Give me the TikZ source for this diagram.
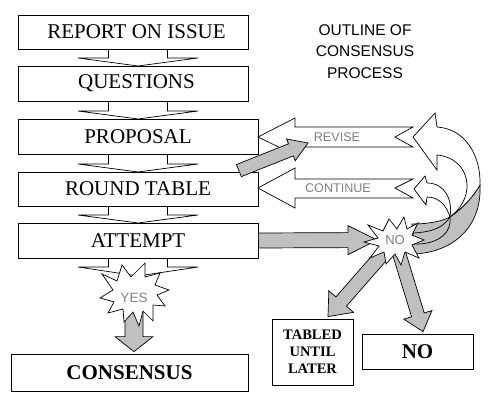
\documentclass[tikz,border=0pt]{standalone}
\usepackage{fontspec}
\setmainfont{Liberation Serif}
\newfontfamily\sansf{Liberation Sans}
\usetikzlibrary{calc}
\definecolor{silv}{RGB}{192,192,192}
\definecolor{txtgray}{RGB}{128,128,128}
\newcommand\blockarr[6]{%
  \coordinate (ba-a) at #2;
  \coordinate (ba-b) at #3;
  \coordinate (ba-c) at ($(ba-b)!#6!(ba-a)$);
  \filldraw[#1] ($(ba-a)!#4!90:(ba-b)$) -- ($(ba-c)!#4!90:(ba-b)$) -- ($(ba-c)!#5!90:(ba-b)$) -- (ba-b) -- ($(ba-c)!#5!-90:(ba-b)$) -- ($(ba-c)!#4!-90:(ba-b)$) -- ($(ba-a)!#4!-90:(ba-b)$) -- cycle;
}
\tikzset{
  box/.style={draw, fill=white, line width=0.8pt, inner sep=0pt, font=\fontsize{21}{24}\selectfont},
  boldbox/.style={box, font=\bfseries\fontsize{21}{24}\selectfont},
  hollow/.style={draw, fill=white, line width=0.7pt, line join=miter},
  garrow/.style={draw, fill=silv, line width=0.7pt, line join=miter},
  warrow/.style={draw, fill=white, line width=0.7pt, line join=miter},
  burstline/.style={draw, fill=white, line width=0.7pt, line join=miter, miter limit=20},
  burstlbl/.style={inner sep=0pt, text=txtgray, font=\sansf\fontsize{13}{13}\selectfont},
  graylbl/.style={inner sep=0pt, text=txtgray, font=\sansf\fontsize{12.6}{13}\selectfont},
  shifted/.style={execute at begin node={\hspace*{7pt}}},
}
\begin{document}
\begin{tikzpicture}[x=1pt, y=-1pt]
\useasboundingbox (0,0) rectangle (497,411);
\fill[white] (0,0) rectangle (497,411);

% title
\node[font=\sansf\fontsize{15.5}{21.75}\selectfont, align=center, inner sep=0pt] (title) at (365,51.5) {OUTLINE OF\\CONSENSUS\\PROCESS};

% positions of stars
\coordinate (noc) at (395,240);
\coordinate (yesc) at (134,296);

% white down arrows between boxes (drawn first)
\blockarr{warrow}{(138,40)}{(138,66)}{29.5pt}{60pt}{8pt}
\blockarr{warrow}{(138,92)}{(138,119)}{29.5pt}{60pt}{8pt}
\blockarr{warrow}{(138,145)}{(138,172)}{29.5pt}{60pt}{8pt}
\blockarr{warrow}{(138,197)}{(138,223)}{29.5pt}{60pt}{8pt}
\blockarr{warrow}{(138,249)}{(138,276)}{29.5pt}{60pt}{9pt}

% boxes
\node[box, shifted, minimum width=230pt, minimum height=34pt] (rep) at (133,32) {REPORT ON ISSUE};
\node[box, shifted, minimum width=230pt, minimum height=35pt] (q) at (133,83.5) {QUESTIONS};
\node[box, minimum width=240pt, minimum height=35pt] (prop) at (138,136.5) {PROPOSAL};
\node[box, minimum width=240pt, minimum height=34pt] (rt) at (138,189) {ROUND TABLE};
\node[box, minimum width=240pt, minimum height=35pt] (att) at (138,240.5) {ATTEMPT};

% hollow REVISE / CONTINUE arrows
\draw[hollow] (258,137) -- (295,118) -- (295,127) -- (413,127) -- (395,137) -- (413,147) -- (295,147) -- (295,155) -- cycle;
\draw[hollow] (258,188) -- (295,168) -- (295,179) -- (413,179) -- (395,188) -- (413,198) -- (295,198) -- (295,208) -- cycle;
\node[graylbl] (revlbl) at (337,137) {REVISE};
\node[graylbl] (contlbl) at (338,188.5) {CONTINUE};

% big curved arrow (back to REVISE)
\filldraw[garrow] (480,185) .. controls (482,225) and (455,253) .. (412,254) -- (412,224) .. controls (430,224) and (442,221) .. (450,217) .. controls (462,209) and (473,197) .. (480,185) -- cycle;
\filldraw[warrow] (413,137) -- (435,113) -- (437,127) .. controls (467,129) and (481,158) .. (480,185) .. controls (473,197) and (462,209) .. (450,217) .. controls (478,196) and (470,158) .. (437,155) -- (437,170) -- cycle;
% small curved arrow (back to CONTINUE)
\filldraw[warrow] (414,189) -- (425,176) -- (427,183) .. controls (445,183) and (453,200) .. (450,217) .. controls (447,207) and (440,197) .. (427,197) -- (426,205) -- cycle;
\filldraw[garrow] (450,217) .. controls (443,228) and (432,232) .. (413,233) -- (413,244) .. controls (435,245) and (452,235) .. (450,217) -- cycle;

% lower boxes
\node[boldbox, minimum width=237pt, minimum height=37pt] (cons) at (129.5,372.5) {CONSENSUS};
\node[box, minimum width=81pt, minimum height=66pt, align=center, font=\bfseries\fontsize{14.5}{17}\selectfont] (tabled) at (312.5,352) {TABLED\\UNTIL\\LATER};
\node[boldbox, minimum width=111pt, minimum height=35pt] (nobox) at (417.5,351.5) {NO};

% gray block arrows
\blockarr{garrow}{($(rt.north east)+(-19.5,-1)$)}{(308,143)}{6.5pt}{11.7pt}{18.4pt}
\blockarr{garrow}{(att.east)}{($(noc)+(-18,0)$)}{7.5pt}{14.5pt}{29pt}
\blockarr{garrow}{(noc)}{($(tabled.north)+(15.5,-2)$)}{7pt}{16.4pt}{20pt}
\blockarr{garrow}{(noc)}{($(nobox.north)+(5.5,-2)$)}{6.6pt}{14.7pt}{17.5pt}
\blockarr{garrow}{(yesc)}{($(cons.north)+(4.5,-2)$)}{9pt}{19pt}{15pt}

% NO star
\filldraw[burstline] (368,225) -- (383,231) -- (389,219) -- (397,229) -- (404,217) -- (407,229) -- (418,223) -- (412,235) -- (424,240) -- (412,245) -- (419,258) -- (405,252) -- (401,265) -- (395,254) -- (386,264) -- (384,252) -- (370,258) -- (379,246) -- (364,242) -- (378,238) -- cycle;
\node[burstlbl] (nostar) at (395,240) {NO};
% YES star
\filldraw[burstline] (102,274) -- (117,281) -- (122,265) -- (131,277) -- (145,263) -- (145,277) -- (160,273) -- (155,285) -- (169,290) -- (157,295) -- (165,306) -- (153,305) -- (153,321) -- (143,311) -- (139,326) -- (133,312) -- (124,322) -- (123,309) -- (108,313) -- (114,302) -- (100,298) -- (113,290) -- cycle;
\node[burstlbl, font=\sansf\fontsize{13.5}{14}\selectfont] (yesstar) at (134,298) {YES};
\end{tikzpicture}
\end{document}
